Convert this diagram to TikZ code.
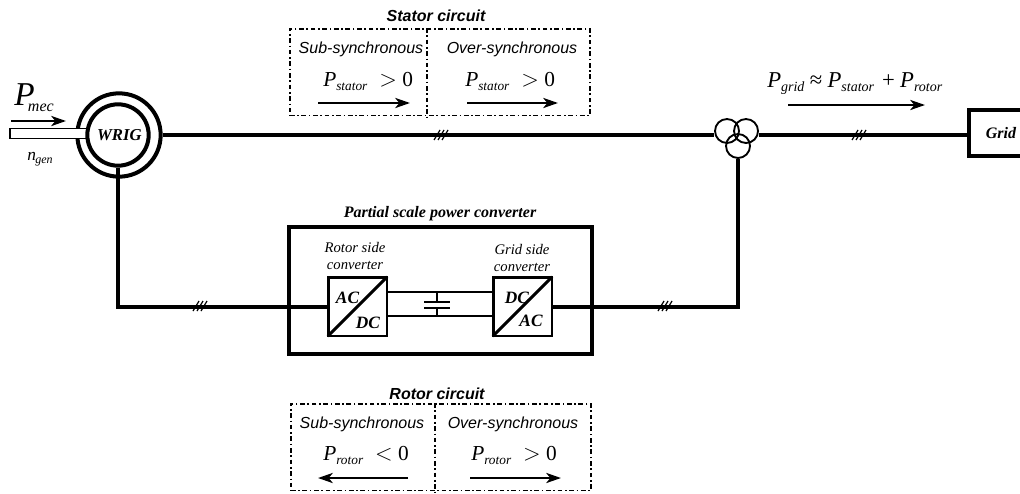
\documentclass[tikz,border=0pt]{standalone}
\usepackage{fontspec}
\setmainfont{Liberation Serif}
\setsansfont{Liberation Sans}
\usetikzlibrary{arrows.meta}
\newcommand{\fsize}[1]{\fontsize{#1}{#1}\selectfont}
\newcommand{\Pow}[5][0pt]{{\fsize{#4}\itshape #2\hspace*{#1}\raisebox{-0.19em}{\fsize{#5}\itshape #3}}}
\tikzset{
  bus/.style={line width=3pt,line join=miter},
  thinbus/.style={line width=2.2pt},
  flow/.style={line width=2pt,-{Stealth[length=11pt,width=7.5pt,inset=3pt]}},
  panel/.style={draw,line width=1.3pt,dash pattern=on 3.5pt off 2pt on 1.2pt off 2pt,
    anchor=north west,inner sep=0pt},
  divider/.style={line width=1.1pt,dash pattern=on 3.5pt off 2pt on 1.2pt off 2pt},
  panelhead/.style={font=\sffamily\bfseries\itshape\fsize{12}},
  panellabel/.style={font=\sffamily\itshape\fsize{12}},
  serifhead/.style={font=\bfseries\itshape\fsize{12}},
  sidelabel/.style={font=\itshape\fsize{11},align=center,inner sep=0pt},
  convbox/.style={draw,line width=2pt,minimum width=44pt,minimum height=44pt,inner sep=0pt,fill=white},
  convtext/.style={font=\bfseries\itshape\fsize{13},inner sep=0pt},
  trafo/.style={draw,circle,line width=1.4pt,minimum size=18pt,inner sep=0pt},
  hash/.style={line width=0.9pt}
}
\begin{document}
\begin{tikzpicture}[x=0.75pt,y=-0.75pt]
  \useasboundingbox (0,0) rectangle (1020,493);

  % generator and shaft
  \node[draw,circle,line width=3pt,minimum size=62.5pt,inner sep=0pt] (genouter) at (119,135) {};
  \node[draw,fill=white,line width=1.2pt,anchor=west,minimum width=58pt,minimum height=7.5pt,inner sep=0pt] (shaft) at (9,133.5) {};
  \node[draw,fill=white,circle,line width=3pt,minimum size=46pt,inner sep=0pt,
    font=\bfseries\itshape\fsize{12.5}] (wrig) at (118,135) {\hspace*{2pt}WRIG};
  \draw[flow] (11,121) -- (66,121);
  \node[anchor=base west,inner sep=0pt] (pmec) at (14,105) {\Pow[-5pt]{P}{mec}{25}{12}};
  \node[anchor=base west,inner sep=0pt] (ngen) at (27,160) {\Pow[-0.5pt]{n}{gen}{13}{9}};

  % transformer and grid
  \node[trafo] (tra) at (727,131) {};
  \node[trafo] (trb) at (746,131) {};
  \node[trafo] (trc) at (738,146) {};
  \node[draw,line width=3pt,anchor=west,minimum width=48pt,minimum height=35pt,inner sep=0pt,
    font=\bfseries\itshape\fsize{12}] (grid) at (967,133) {Grid};

  % power converter
  \node[draw,line width=3pt,anchor=north west,minimum width=227pt,minimum height=95pt,inner sep=0pt] (conv) at (287,225) {};
  \node[serifhead,anchor=base] (convhead) at (440,217) {Partial scale power converter};
  \node[convbox] (acdc) at (357.5,306.5) {};
  \node[convbox] (dcac) at (522.5,306.5) {};
  \draw[thinbus,shorten <=1pt,shorten >=1pt] (acdc.south west) -- (acdc.north east);
  \draw[thinbus,shorten <=1pt,shorten >=1pt] (dcac.south west) -- (dcac.north east);
  \node[convtext] (acl) at (347.5,298) {AC};
  \node[convtext] (dcl) at (368,323) {DC};
  \node[convtext] (dcr) at (517,298) {DC};
  \node[convtext] (acr) at (531,321) {AC};
  \node[sidelabel] (rsc) at (355,256) {Rotor side\\[2pt]converter};
  \node[sidelabel] (gsc) at (522,258) {Grid side\\[2pt]converter};

  % dc link
  \coordinate (linka) at (437,292);
  \coordinate (linkb) at (437,316);
  \coordinate (plateup) at (437,302);
  \coordinate (platedn) at (437,308);
  \draw[thinbus] (acdc.east |- linka) -- (dcac.west |- linka);
  \draw[thinbus] (acdc.east |- linkb) -- (dcac.west |- linkb);
  \draw[thinbus] (linka) -- (plateup);
  \draw[thinbus] (linkb) -- (platedn);
  \draw[thinbus] ([xshift=-9.5pt]plateup) -- ([xshift=9.5pt]plateup);
  \draw[thinbus] ([xshift=-9.5pt]platedn) -- ([xshift=9.5pt]platedn);

  % main connections
  \draw[bus] (genouter.east) -- (genouter.east -| tra.west);
  \draw[bus] (genouter.east -| trb.east) -- (genouter.east -| grid.west);
  \draw[bus] (wrig.south) |- (acdc.west);
  \draw[bus] (trc.south) |- (dcac.east);

  % three phase marks
  \foreach \mx/\my in {441/135,200/306,665/306,859/135} {
    \foreach \dx in {-4,0,4} {
      \draw[hash] (\mx+\dx-3,\my+5) -- (\mx+\dx+3,\my-5);
    }
  }

  % stator circuit
  \node[panelhead,anchor=base] (stathead) at (436,21) {Stator circuit};
  \node[panel,minimum width=225pt,minimum height=65pt] (statbox) at (289,28) {};
  \draw[divider] (427,28) -- (427,118);
  \node[panellabel,anchor=base] (statsubl) at (361,53) {Sub-synchronous};
  \node[panellabel,anchor=base] (statoverl) at (512,53) {Over-synchronous};
  \node[anchor=base west,inner sep=0pt] (statsubp) at (323,86) {\Pow{P}{stator}{16}{10}\hspace{9pt}{\fsize{16}$>$ 0}};
  \node[anchor=base west,inner sep=0pt] (statoverp) at (465,86) {\Pow{P}{stator}{16}{10}\hspace{9pt}{\fsize{16}$>$ 0}};
  \draw[flow] (318,103) -- (410,103);
  \draw[flow] (467,103) -- (558,103);

  % rotor circuit
  \node[panelhead,anchor=base] (rothead) at (437,399) {Rotor circuit};
  \node[panel,minimum width=225pt,minimum height=65pt] (rotbox) at (290,403) {};
  \draw[divider] (435,403) -- (435,493);
  \node[panellabel,anchor=base] (rotsubl) at (362,428) {Sub-synchronous};
  \node[panellabel,anchor=base] (rotoverl) at (513,428) {Over-synchronous};
  \node[anchor=base west,inner sep=0pt] (rotsubp) at (323,460) {\Pow{P}{rotor}{16}{10}\hspace{9pt}{\fsize{16}$<$ 0}};
  \node[anchor=base west,inner sep=0pt] (rotoverp) at (471,460) {\Pow{P}{rotor}{16}{10}\hspace{9pt}{\fsize{16}$>$ 0}};
  \draw[flow] (408,478) -- (318,478);
  \draw[flow] (470,478) -- (561,478);

  % grid power
  \node[anchor=base west,inner sep=0pt] (pgrid) at (767,87) {\Pow{P}{grid}{17}{10.5}\hspace{4pt}{\fsize{17}≈}\hspace{4pt}\Pow{P}{stator}{17}{10.5}\hspace{6pt}{\fsize{17}+}\hspace{4pt}\Pow{P}{rotor}{17}{10.5}};
  \draw[flow] (788,105) -- (925,105);
\end{tikzpicture}
\end{document}
